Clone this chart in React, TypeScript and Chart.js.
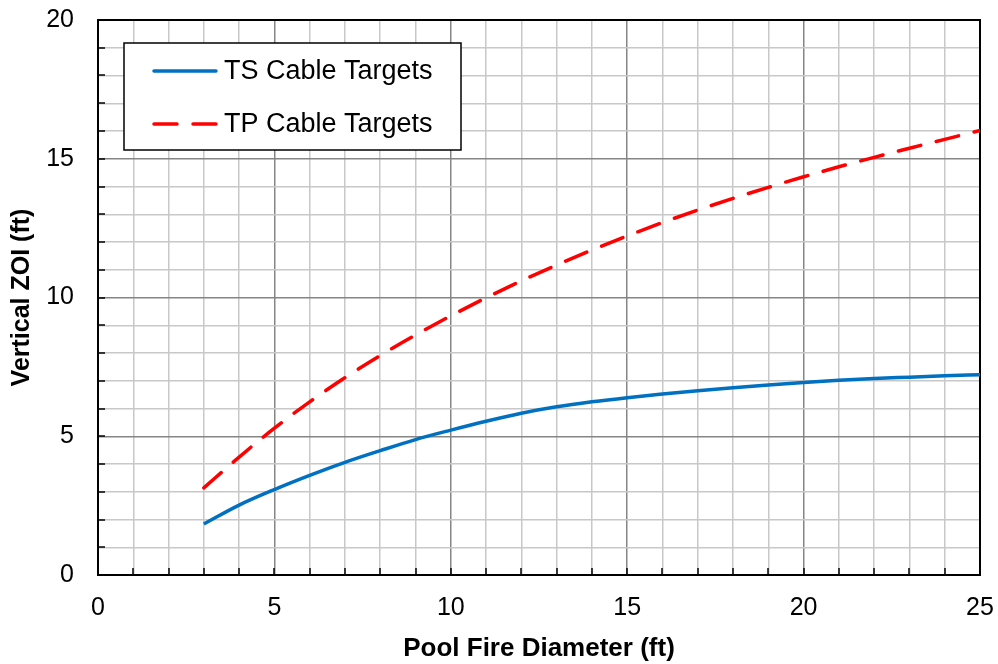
import { useEffect, useRef } from "react";
import { Chart, registerables } from "chart.js";

Chart.register(...registerables);

// Pool fire diameter (ft)
const diameters = [3, 4, 5, 6, 7, 8, 9, 10, 11, 12, 13, 14, 15, 16, 17, 18, 19, 20, 21, 22, 23, 24, 25];
// Vertical ZOI (ft) for thermoset cable targets
const tsZoi = [1.84, 2.52, 3.08, 3.59, 4.06, 4.48, 4.88, 5.22, 5.54, 5.83, 6.06, 6.24, 6.39, 6.52, 6.64, 6.75, 6.85, 6.94, 7.02, 7.08, 7.13, 7.18, 7.22];
// Vertical ZOI (ft) for thermoplastic cable targets
const tpZoi = [3.14, 4.25, 5.29, 6.24, 7.11, 7.91, 8.65, 9.34, 9.99, 10.6, 11.17, 11.71, 12.22, 12.7, 13.15, 13.57, 13.97, 14.35, 14.71, 15.05, 15.38, 15.7, 16.02];

const seriesNames = ["TS Cable Targets", "TP Cable Targets"];
const xLabelTicks = [0, 5, 10, 15, 20, 25];
const yLabelTicks = [0, 5, 10, 15, 20];

const FONT = '"Liberation Sans", Arial, Helvetica, sans-serif';
const BLUE = "#0070C0";
const RED = "#FF0000";
const TP_DASH = [23, 16];

const gridColor = (ctx: any) =>
  ctx.tick && ctx.tick.value % 5 === 0 ? "#858585" : "#c8c8c8";

const framePlugin = {
  id: "frameAndLegend",
  beforeDatasetsDraw(chart: any) {
    const { ctx, chartArea: a, scales } = chart;
    ctx.save();
    ctx.strokeStyle = "#000";
    ctx.lineWidth = 1.5;
    // tick marks pointing into the plot area
    scales.x.ticks.forEach((t: any) => {
      const px = Math.round(scales.x.getPixelForValue(t.value));
      ctx.beginPath();
      ctx.moveTo(px, a.bottom);
      ctx.lineTo(px, a.bottom - 7);
      ctx.stroke();
    });
    scales.y.ticks.forEach((t: any) => {
      const py = Math.round(scales.y.getPixelForValue(t.value));
      ctx.beginPath();
      ctx.moveTo(a.left, py);
      ctx.lineTo(a.left + 7, py);
      ctx.stroke();
    });
    ctx.lineWidth = 2;
    ctx.strokeRect(a.left, a.top, a.right - a.left, a.bottom - a.top);
    ctx.restore();
  },
  afterDatasetsDraw(chart: any) {
    const { ctx, chartArea: a } = chart;
    const bx = a.left + 26;
    const by = a.top + 23;
    const bw = 337;
    const bh = 107;
    ctx.save();
    ctx.fillStyle = "#fff";
    ctx.fillRect(bx, by, bw, bh);
    ctx.strokeStyle = "#000";
    ctx.lineWidth = 1.5;
    ctx.strokeRect(bx, by, bw, bh);
    const rows = [by + 28, by + 81];
    chart.data.datasets.forEach((ds: any, i: number) => {
      const y = rows[i];
      ctx.beginPath();
      ctx.strokeStyle = ds.borderColor;
      ctx.lineWidth = ds.borderWidth;
      ctx.lineCap = "round";
      ctx.setLineDash(ds.borderDash || []);
      ctx.moveTo(bx + 30, y);
      ctx.lineTo(bx + 92, y);
      ctx.stroke();
      ctx.setLineDash([]);
      ctx.fillStyle = "#000";
      ctx.font = `27px ${FONT}`;
      ctx.textAlign = "left";
      ctx.textBaseline = "middle";
      ctx.fillText(ds.label, bx + 100, y + 1);
    });
    ctx.restore();
  },
};

export default function App() {
  const canvasRef = useRef<HTMLCanvasElement | null>(null);

  useEffect(() => {
    const canvas = canvasRef.current;
    if (!canvas) return;
    const chart = new Chart(canvas, {
      type: "line",
      data: {
        datasets: [
          {
            label: seriesNames[0],
            data: diameters.map((d, i) => ({ x: d, y: tsZoi[i] })),
            borderColor: BLUE,
            borderWidth: 3.5,
            pointRadius: 0,
            cubicInterpolationMode: "monotone",
            fill: false,
          },
          {
            label: seriesNames[1],
            data: diameters.map((d, i) => ({ x: d, y: tpZoi[i] })),
            borderColor: RED,
            borderWidth: 3.5,
            borderDash: TP_DASH,
            borderCapStyle: "round",
            pointRadius: 0,
            cubicInterpolationMode: "monotone",
            fill: false,
          },
        ],
      },
      options: {
        responsive: false,
        animation: false,
        layout: { padding: { top: 20, right: 18, left: 0, bottom: 0 } },
        plugins: {
          legend: { display: false },
          tooltip: { enabled: false },
        },
        scales: {
          x: {
            type: "linear",
            min: 0,
            max: 25,
            afterFit: (s: any) => {
              s.height = 89;
              s.paddingLeft = 0;
              s.paddingRight = 0;
            },
            ticks: {
              stepSize: 1,
              autoSkip: false,
              maxRotation: 0,
              padding: 18,
              color: "#000",
              font: { family: FONT, size: 25 },
              callback: (v: any) => (xLabelTicks.includes(v) ? String(v) : ""),
            },
            grid: { color: gridColor, lineWidth: 1.5, drawTicks: false },
            border: { display: false },
            title: {
              display: true,
              text: "Pool Fire Diameter (ft)",
              color: "#000",
              font: { family: FONT, size: 26, weight: "bold" },
              padding: { top: 0, bottom: 0 },
            },
          },
          y: {
            type: "linear",
            min: 0,
            max: 20,
            afterFit: (s: any) => {
              s.width = 98;
              s.paddingTop = 0;
              s.paddingBottom = 0;
            },
            ticks: {
              stepSize: 1,
              autoSkip: false,
              padding: 24,
              color: "#000",
              font: { family: FONT, size: 25 },
              callback: (v: any) => (yLabelTicks.includes(v) ? String(v) : ""),
            },
            grid: { color: gridColor, lineWidth: 1.5, drawTicks: false },
            border: { display: false },
            title: {
              display: true,
              text: "Vertical ZOI (ft)",
              color: "#000",
              font: { family: FONT, size: 25, weight: "bold" },
              padding: { top: 7, bottom: 0 },
            },
          },
        },
      },
      plugins: [framePlugin],
    } as any);
    return () => chart.destroy();
  }, []);

  return (
    <div style={{ position: "absolute", left: 0, top: 0, width: 998, height: 664, background: "#fff" }}>
      <canvas ref={canvasRef} width={998} height={664} style={{ width: 998, height: 664, display: "block" }} />
    </div>
  );
}
